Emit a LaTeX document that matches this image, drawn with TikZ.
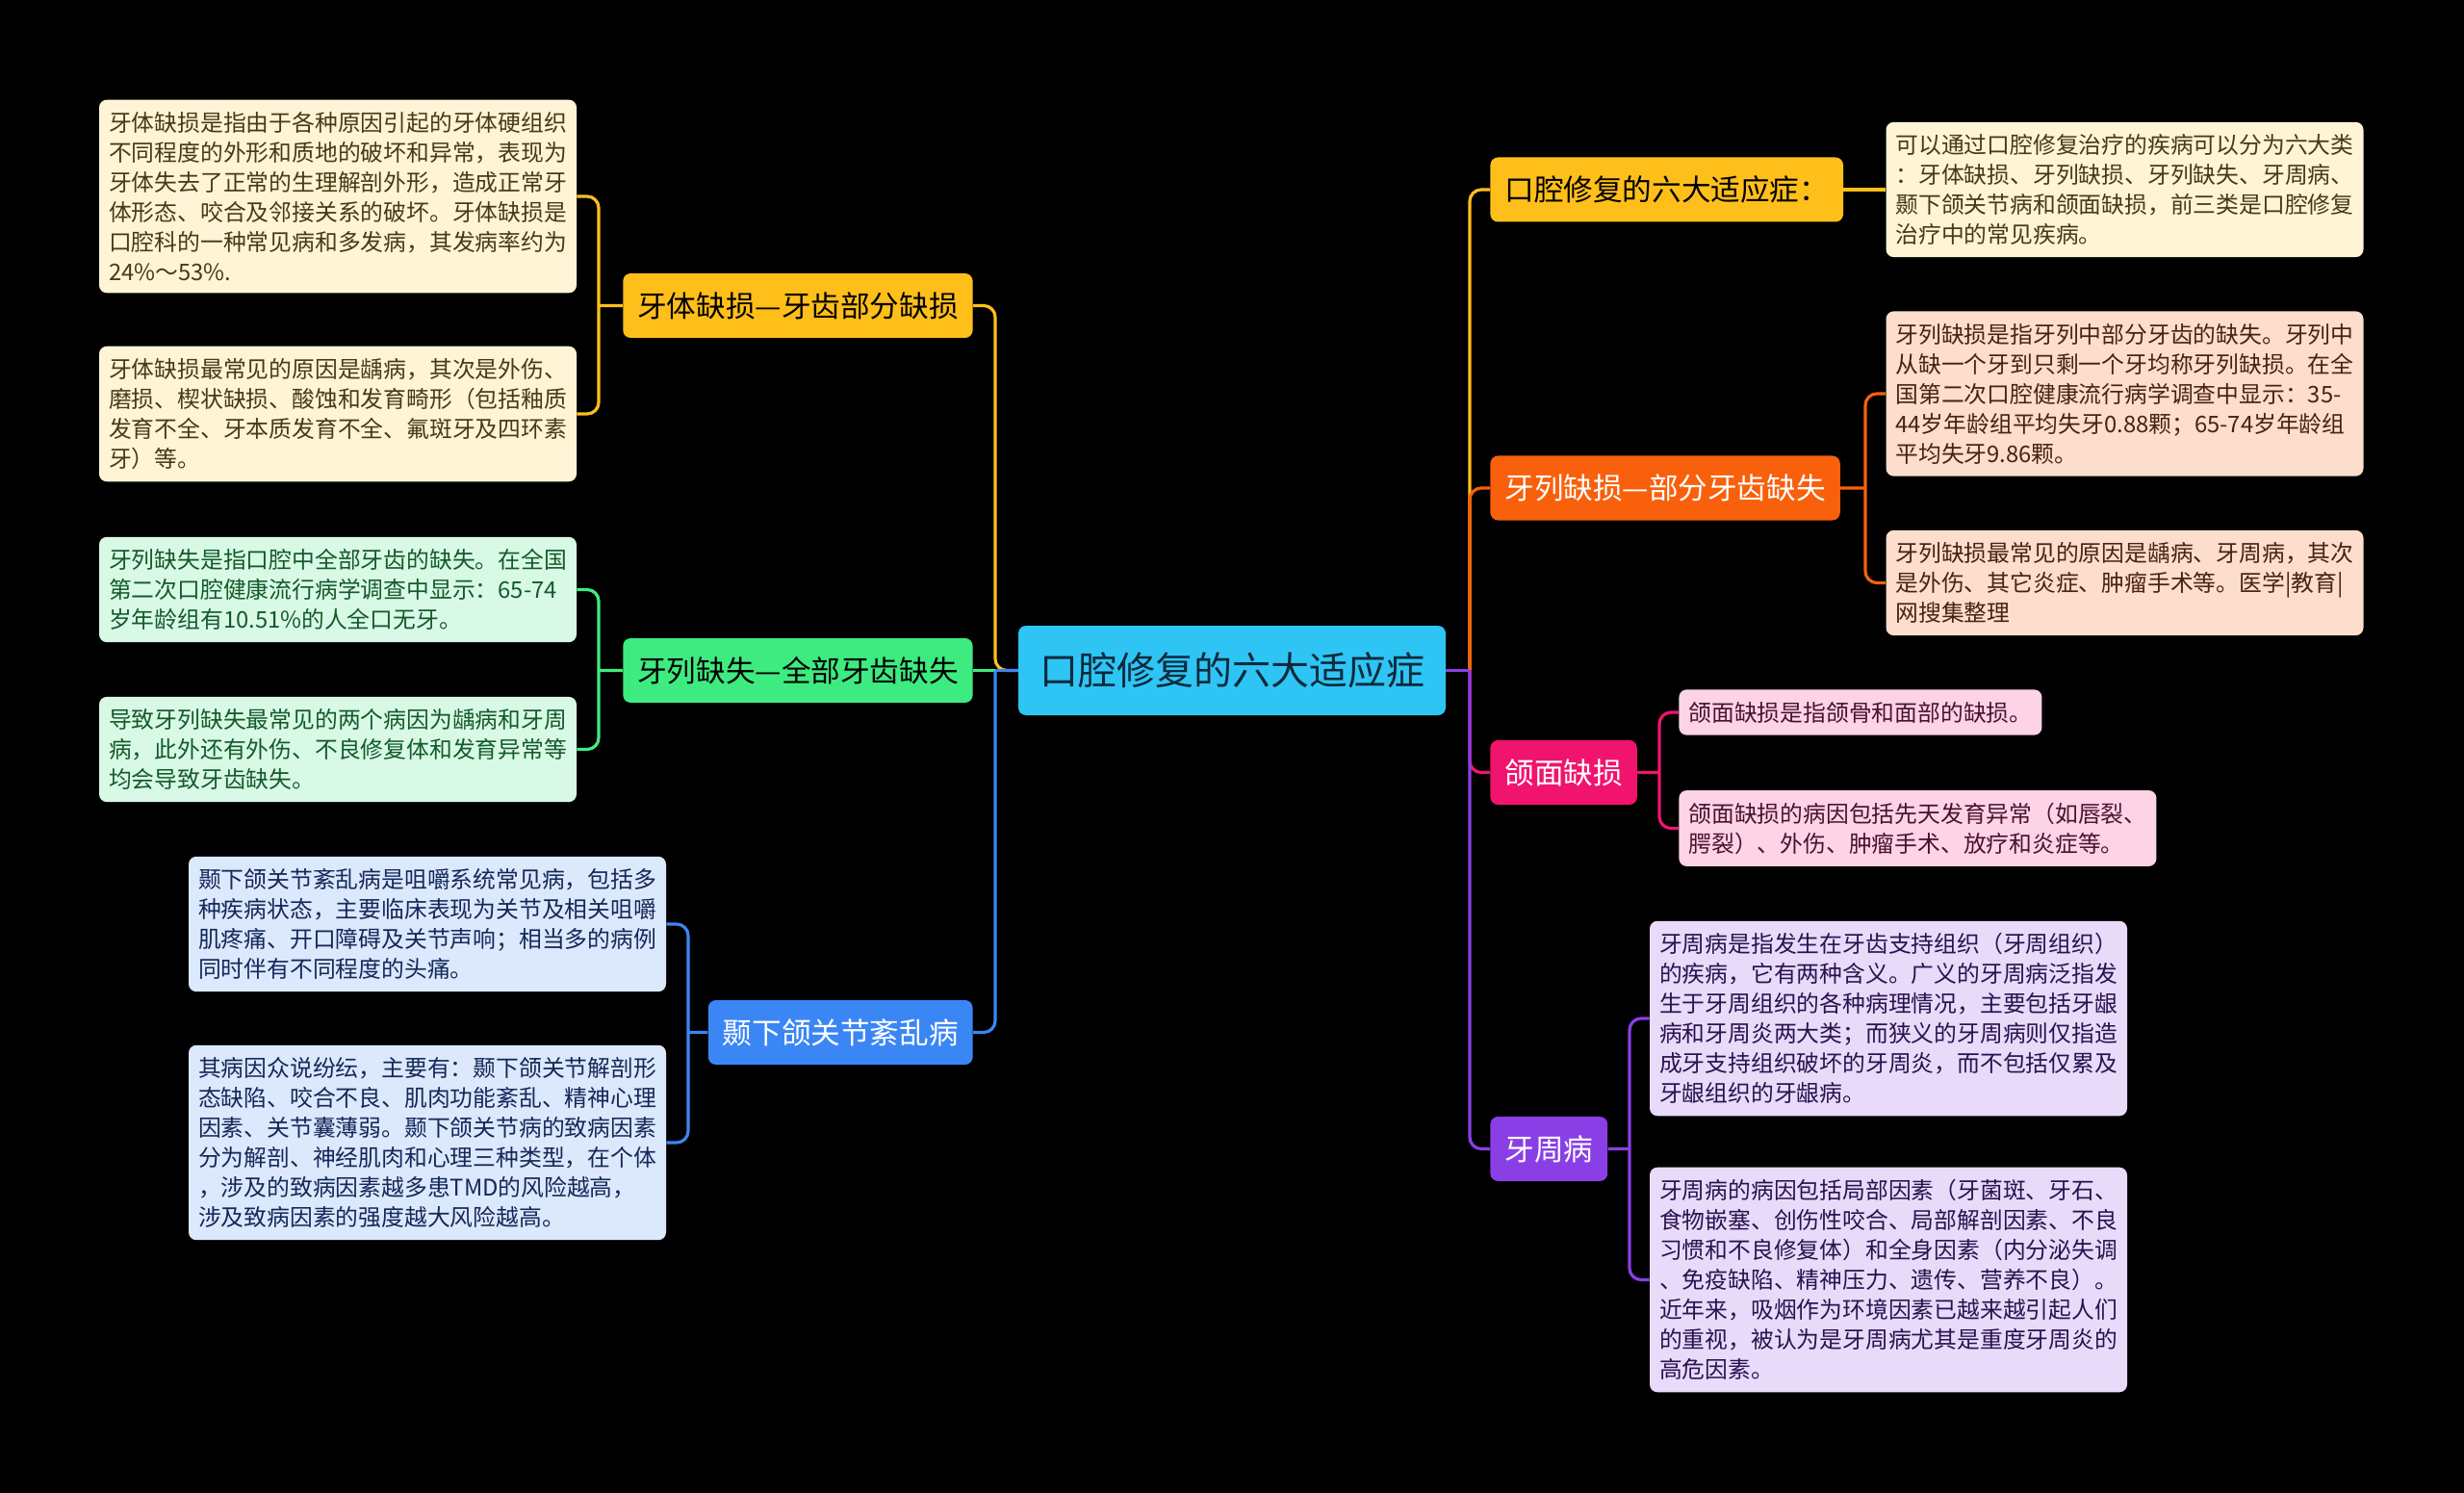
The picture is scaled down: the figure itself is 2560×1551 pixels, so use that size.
\documentclass[tikz,border=0pt]{standalone}
\usepackage{fontspec}
\setmainfont{Noto Sans CJK SC}
\XeTeXlinebreaklocale "zh"
\XeTeXlinebreakskip=0pt plus 1pt

% colours
\definecolor{rootcyan}{HTML}{2EC5F5}
\definecolor{roottext}{HTML}{0E2A3C}
\definecolor{cyellow}{HTML}{FFBF1A}
\definecolor{cgreen}{HTML}{3EEB80}
\definecolor{cblue}{HTML}{3B86F5}
\definecolor{corange}{HTML}{F8600C}
\definecolor{cpink}{HTML}{F0146E}
\definecolor{cpurple}{HTML}{8A3FE6}
\definecolor{lyellow}{HTML}{FFF4D6}
\definecolor{lgreen}{HTML}{D8F9E6}
\definecolor{lblue}{HTML}{DCE8FB}
\definecolor{lorange}{HTML}{FDDDCC}
\definecolor{lpink}{HTML}{FDD3E6}
\definecolor{lpurple}{HTML}{E7DBF9}
\definecolor{tyellow}{HTML}{4A3A14}
\definecolor{tgreen}{HTML}{145A2A}
\definecolor{tblue}{HTML}{14285A}
\definecolor{torange}{HTML}{4A2210}
\definecolor{tpink}{HTML}{4A1230}
\definecolor{tpurple}{HTML}{2A1250}

\tikzset{
  rootbox/.style={fill=rootcyan, text=roottext, rounded corners=4pt,
    font=\fontsize{20pt}{24pt}\selectfont, minimum height=46.5pt, inner xsep=11pt},
  branchbox/.style={rounded corners=4pt, font=\fontsize{15.3pt}{18pt}\selectfont,
    minimum height=33.5pt, inner xsep=7.5pt},
  leafbox/.style={rounded corners=4pt, font=\fontsize{11.9pt}{15.5pt}\selectfont,
    align=left, text width=238pt, inner xsep=5pt, inner ysep=6.3pt},
  shortleaf/.style={rounded corners=4pt, font=\fontsize{11.9pt}{15.5pt}\selectfont,
    align=left, inner xsep=5pt, inner ysep=6.3pt},
  link/.style={line width=1.6pt, rounded corners=6pt},
}

\begin{document}
\begin{tikzpicture}[x=0.5pt, y=-0.5pt]

    % ==========================================
    % BACKGROUND
    % ==========================================
    \fill[black] (0,0) rectangle (2560,1551);

    % ==========================================
    % ROOT
    % ==========================================
    \node[rootbox] (root) at (1280,696.5) {口腔修复的六大适应症};

    % ==========================================
    % LEFT SIDE: branches and leaves
    % ==========================================
    \node[branchbox, fill=cyellow, text=black, anchor=east] (defectB) at (1011,317.5) {牙体缺损—牙齿部分缺损};
    \node[branchbox, fill=cgreen, text=black, anchor=east] (edentB) at (1011,696.5) {牙列缺失—全部牙齿缺失};
    \node[branchbox, fill=cblue, text=white, anchor=east] (tmdB) at (1011,1072.5) {颞下颌关节紊乱病};

    \node[leafbox, fill=lyellow, text=tyellow] (defectL1) at (351,204) {牙体缺损是指由于各种原因引起的牙体硬组织\\不同程度的外形和质地的破坏和异常，表现为\\牙体失去了正常的生理解剖外形，造成正常牙\\体形态、咬合及邻接关系的破坏。牙体缺损是\\口腔科的一种常见病和多发病，其发病率约为\\24\%～53\%.};
    \node[leafbox, fill=lyellow, text=tyellow] (defectL2) at (351,430) {牙体缺损最常见的原因是龋病，其次是外伤、\\磨损、楔状缺损、酸蚀和发育畸形（包括釉质\\发育不全、牙本质发育不全、氟斑牙及四环素\\牙）等。};

    \node[leafbox, fill=lgreen, text=tgreen] (edentL1) at (351,612.5) {牙列缺失是指口腔中全部牙齿的缺失。在全国\\第二次口腔健康流行病学调查中显示：65-74\\岁年龄组有10.51\%的人全口无牙。};
    \node[leafbox, fill=lgreen, text=tgreen] (edentL2) at (351,778.5) {导致牙列缺失最常见的两个病因为龋病和牙周\\病，此外还有外伤、不良修复体和发育异常等\\均会导致牙齿缺失。};

    \node[leafbox, fill=lblue, text=tblue] (tmdL1) at (444,960) {颞下颌关节紊乱病是咀嚼系统常见病，包括多\\种疾病状态，主要临床表现为关节及相关咀嚼\\肌疼痛、开口障碍及关节声响；相当多的病例\\同时伴有不同程度的头痛。};
    \node[leafbox, fill=lblue, text=tblue] (tmdL2) at (444,1187) {其病因众说纷纭，主要有：颞下颌关节解剖形\\态缺陷、咬合不良、肌肉功能紊乱、精神心理\\因素、关节囊薄弱。颞下颌关节病的致病因素\\分为解剖、神经肌肉和心理三种类型，在个体\\，涉及的致病因素越多患TMD的风险越高，\\涉及致病因素的强度越大风险越高。};

    % ==========================================
    % RIGHT SIDE: branches and leaves
    % ==========================================
    \node[branchbox, fill=cyellow, text=black, anchor=west] (sixB) at (1548,197) {口腔修复的六大适应症：};
    \node[branchbox, fill=corange, text=white, anchor=west] (partialB) at (1548,507) {牙列缺损—部分牙齿缺失};
    \node[branchbox, fill=cpink, text=white, anchor=west] (maxB) at (1548,802.5) {颌面缺损};
    \node[branchbox, fill=cpurple, text=white, anchor=west] (perioB) at (1548,1193.5) {牙周病};

    \node[leafbox, fill=lyellow, text=tyellow] (sixL1) at (2207.5,197) {可以通过口腔修复治疗的疾病可以分为六大类\\：牙体缺损、牙列缺损、牙列缺失、牙周病、\\颞下颌关节病和颌面缺损，前三类是口腔修复\\治疗中的常见疾病。};

    \node[leafbox, fill=lorange, text=torange] (partialL1) at (2207.5,409) {牙列缺损是指牙列中部分牙齿的缺失。牙列中\\从缺一个牙到只剩一个牙均称牙列缺损。在全\\国第二次口腔健康流行病学调查中显示：35-\\44岁年龄组平均失牙0.88颗；65-74岁年龄组\\平均失牙9.86颗。};
    \node[leafbox, fill=lorange, text=torange] (partialL2) at (2207.5,605.5) {牙列缺损最常见的原因是龋病、牙周病，其次\\是外伤、其它炎症、肿瘤手术等。医学|教育|\\网搜集整理};

    \node[shortleaf, fill=lpink, text=tpink, anchor=west] (maxL1) at (1744,740) {颌面缺损是指颌骨和面部的缺损。};
    \node[shortleaf, fill=lpink, text=tpink, anchor=west] (maxL2) at (1744,860.5) {颌面缺损的病因包括先天发育异常（如唇裂、\\腭裂）、外伤、肿瘤手术、放疗和炎症等。};

    \node[leafbox, fill=lpurple, text=tpurple] (perioL1) at (1962,1058) {牙周病是指发生在牙齿支持组织（牙周组织）\\的疾病，它有两种含义。广义的牙周病泛指发\\生于牙周组织的各种病理情况，主要包括牙龈\\病和牙周炎两大类；而狭义的牙周病则仅指造\\成牙支持组织破坏的牙周炎，而不包括仅累及\\牙龈组织的牙龈病。};
    \node[leafbox, fill=lpurple, text=tpurple] (perioL2) at (1962,1329.5) {牙周病的病因包括局部因素（牙菌斑、牙石、\\食物嵌塞、创伤性咬合、局部解剖因素、不良\\习惯和不良修复体）和全身因素（内分泌失调\\、免疫缺陷、精神压力、遗传、营养不良）。\\近年来，吸烟作为环境因素已越来越引起人们\\的重视，被认为是牙周病尤其是重度牙周炎的\\高危因素。};

    % ==========================================
    % CONNECTORS: root to branches
    % ==========================================
    \coordinate (lj) at (1034,696.5);
    \coordinate (rj) at (1527,696.5);

    \draw[link, draw=cyellow] (root.west) -- (lj) |- (defectB.east);
    \draw[link, draw=cgreen] (root.west) -- (edentB.east);
    \draw[link, draw=cblue] (lj) |- (tmdB.east);
    \draw[link, draw=cblue] (root.west) -- (lj);

    \draw[link, draw=cyellow] (rj) |- (sixB.west);
    \draw[link, draw=corange] (rj) |- (partialB.west);
    \draw[link, draw=cpink] (rj) |- (maxB.west);
    \draw[link, draw=cpurple] (rj) |- (perioB.west);
    \draw[link, draw=cpurple] (root.east) -- (rj);

    % ==========================================
    % CONNECTORS: branches to leaves
    % ==========================================
    \coordinate (defectJ) at (622,317.5);
    \coordinate (edentJ) at (622,696.5);
    \coordinate (tmdJ) at (715,1072.5);
    \coordinate (partialJ) at (1938,507);
    \coordinate (maxJ) at (1724,802.5);
    \coordinate (perioJ) at (1693,1193.5);

    \draw[link, draw=cyellow] (defectB.west) -- (defectJ) (defectJ) |- (defectL1.east) (defectJ) |- (defectL2.east);
    \draw[link, draw=cgreen] (edentB.west) -- (edentJ) (edentJ) |- (edentL1.east) (edentJ) |- (edentL2.east);
    \draw[link, draw=cblue] (tmdB.west) -- (tmdJ) (tmdJ) |- (tmdL1.east) (tmdJ) |- (tmdL2.east);

    \draw[link, draw=cyellow] (sixB.east) -- (sixL1.west);
    \draw[link, draw=corange] (partialB.east) -- (partialJ) (partialJ) |- (partialL1.west) (partialJ) |- (partialL2.west);
    \draw[link, draw=cpink] (maxB.east) -- (maxJ) (maxJ) |- (maxL1.west) (maxJ) |- (maxL2.west);
    \draw[link, draw=cpurple] (perioB.east) -- (perioJ) (perioJ) |- (perioL1.west) (perioJ) |- (perioL2.west);

\end{tikzpicture}
\end{document}
